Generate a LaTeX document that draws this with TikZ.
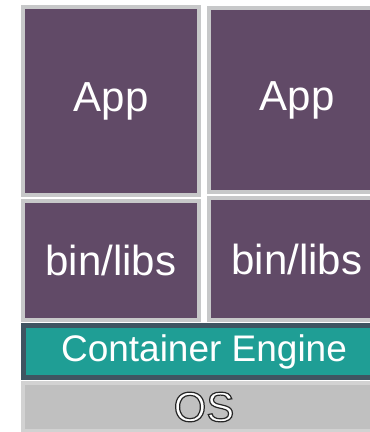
\documentclass[tikz,border=0pt]{standalone}
\usepackage{fontspec}
\setmainfont{Liberation Sans}
\usetikzlibrary{positioning}
\definecolor{plum}{HTML}{614A67}
\definecolor{frame}{HTML}{C7C8C9}
\definecolor{engteal}{HTML}{1F9E95}
\definecolor{engdark}{HTML}{3F5461}
\definecolor{osgray}{HTML}{C0C0C0}
\definecolor{osedge}{HTML}{D2D2D2}
% white label drawn with a dark edge (fill + stroke)
\newcommand{\edgetext}[1]{%
  \special{pdf:literal direct q 2 Tr 1.2 w 0.15 0.15 0.15 RG}%
  #1%
  \special{pdf:literal direct Q}}

\begin{document}
\begin{tikzpicture}[
      x=1pt,y=-1pt,
      inner sep=0pt,outer sep=0pt]
    \tikzstyle{layer}=[draw=frame,line width=4pt,fill=plum,text=white,
      font=\fontsize{42}{50}\selectfont]
    \tikzstyle{engine}=[draw=engdark,line width=5pt,fill=engteal,text=white,
      font=\fontsize{37}{44}\selectfont]
    \tikzstyle{base}=[draw=osedge,line width=4pt,fill=osgray,text=white,
      font=\fontsize{42}{50}\selectfont]
    \useasboundingbox (0,0) rectangle (370,432);
    \clip (0,0) rectangle (370,432);

    \node [layer,minimum width=176pt,minimum height=188pt] (app1) at (111,101) {App};
    \node [layer,minimum width=176pt,minimum height=119pt] (bin1) at (111,260.5) {bin/libs};
    \node [layer,minimum width=176pt,minimum height=184pt] (app2) at (297,100) {App};
    \node [layer,minimum width=176pt,minimum height=122pt] (bin2) at (297,259) {bin/libs};

    \node [engine,minimum width=361pt,minimum height=52pt] (eng) at (204,351.5) {Container Engine};

    \node [base,minimum width=362pt,minimum height=48pt] (os) at (204,407) {\edgetext{OS}};

  \end{tikzpicture}
\end{document}
